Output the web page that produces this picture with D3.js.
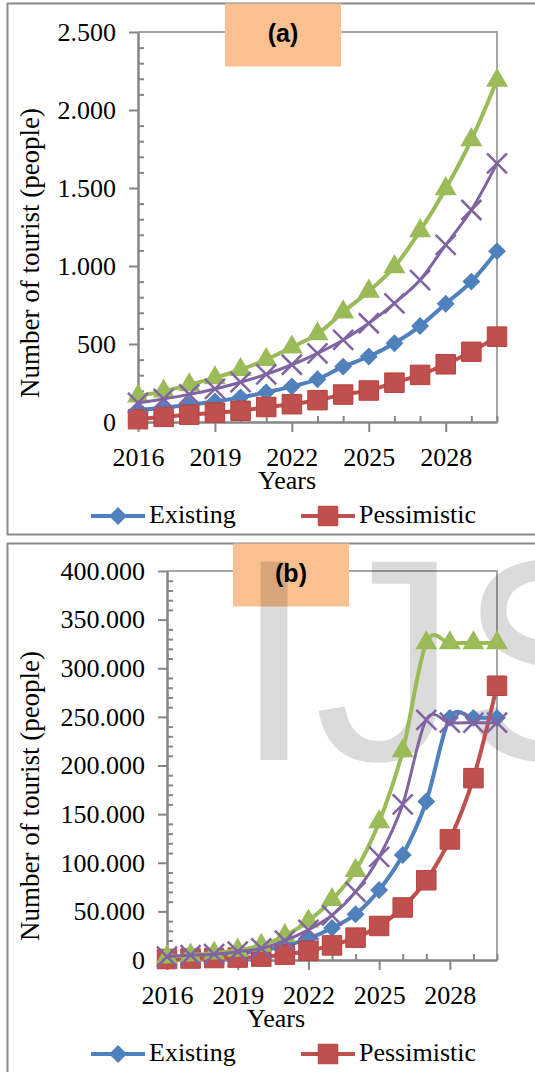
<!DOCTYPE html>
<html>
<head>
<meta charset="utf-8">
<script src="https://cdn.jsdelivr.net/npm/d3@7"></script>
<style>
  body { margin: 0; background: #fff; }
  svg { display: block; }
</style>
</head>
<body>
<div id="chart"></div>
<script>
// categories
var years = [2016, 2017, 2018, 2019, 2020, 2021, 2022, 2023, 2024, 2025, 2026, 2027, 2028, 2029, 2030];
var yearLabels = [2016, 2019, 2022, 2025, 2028];

// panel (a) values
var existingA    = [78, 92, 110, 132, 158, 190, 228, 274, 355, 420, 505, 615, 758, 900, 1095];
var pessimisticA = [18, 33, 47, 60, 72, 96, 114, 140, 176, 202, 252, 302, 370, 450, 547];
var optimisticA  = [165, 198, 238, 283, 335, 400, 480, 565, 705, 838, 995, 1225, 1495, 1808, 2190];
var moderateA    = [123, 148, 177, 212, 255, 306, 367, 440, 526, 633, 761, 910, 1135, 1359, 1658];
var yTicksA = [0, 500, 1000, 1500, 2000, 2500];

// panel (b) values
var existingB    = [2000, 2900, 4300, 6400, 9700, 14500, 22000, 33000, 47000, 72000, 108000, 163000, 249000, 249000, 249000];
var pessimisticB = [1000, 1500, 2000, 2500, 3500, 5500, 9500, 15000, 23000, 35000, 54000, 82000, 124000, 187000, 282000];
var optimisticB  = [3000, 5000, 7000, 10000, 15000, 25000, 40000, 62000, 92000, 142000, 215000, 326000, 326000, 326000, 326000];
var moderateB    = [3500, 5000, 6000, 8500, 12000, 20000, 31000, 46000, 70000, 106000, 160000, 247000, 244000, 244000, 244000];
var yTicksB = [0, 50000, 100000, 150000, 200000, 250000, 300000, 350000, 400000];

var colors = {existing: "#4F81BD", pessimistic: "#C0504D", optimistic: "#9BBB59", moderate: "#8064A2"};
var serif = "'Liberation Serif', 'Times New Roman', serif";
var fmt = d3.formatLocale({decimal: ",", thousands: ".", grouping: [3], currency: ["", ""]}).format(",d");

var svg = d3.select("#chart").append("svg")
    .attr("width", 535)
    .attr("height", 1072);

// marker shapes
function marker(g, kind, cx, cy, color) {
  if (kind == "diamond") {
    g.append("path").attr("d", d3.symbol(d3.symbolSquare, 160)())
      .attr("transform", "translate(" + cx + "," + cy + ") rotate(45)")
      .attr("fill", color);
  } else if (kind == "square") {
    g.append("path").attr("d", d3.symbol(d3.symbolSquare, 380)())
      .attr("transform", "translate(" + cx + "," + cy + ")")
      .attr("fill", color).attr("stroke", "#b9413e").attr("stroke-width", 1);
  } else if (kind == "triangle") {
    g.append("path").attr("d", d3.symbol(d3.symbolTriangle, 210)())
      .attr("transform", "translate(" + cx + "," + cy + ")")
      .attr("fill", color);
  } else {
    var r = 10;
    g.append("path").attr("d", "M" + (-r) + "," + (-r) + "L" + r + "," + r + "M" + (-r) + "," + r + "L" + r + "," + (-r))
      .attr("transform", "translate(" + cx + "," + cy + ")")
      .attr("stroke", color).attr("stroke-width", 2.5).attr("fill", "none");
  }
}

function drawPanel(cfg) {
  var g = svg.append("g");

  // outer frame
  g.append("rect")
    .attr("x", 7.5).attr("y", cfg.frameTop)
    .attr("width", 560).attr("height", cfg.frameHeight)
    .attr("fill", "none").attr("stroke", "#8a8a8a").attr("stroke-width", 2);

  var x = d3.scalePoint().domain(years).range([cfg.left, cfg.right]);
  var y = d3.scaleLinear().domain([0, cfg.max]).range([cfg.bottom, cfg.top]);

  // plot area border
  g.append("path")
    .attr("d", "M" + cfg.left + "," + y(cfg.max) + "H" + cfg.right + "V" + cfg.bottom)
    .attr("fill", "none").attr("stroke", "#a6a6a6").attr("stroke-width", 2);

  // y axis
  g.append("g")
    .attr("transform", "translate(" + cfg.left + ",0)")
    .call(d3.axisLeft(y).tickValues(cfg.yTicks).tickFormat(fmt).tickSize(9).tickSizeOuter(0).tickPadding(13));
  var minorY = d3.range(0, cfg.max, cfg.minor).filter(function(v) { return cfg.yTicks.indexOf(v) < 0; });
  g.append("g")
    .attr("transform", "translate(" + cfg.left + ",0)")
    .call(d3.axisRight(y).tickValues(minorY).tickFormat("").tickSize(6).tickSizeOuter(0));

  // x axis
  var xAxis = g.append("g")
    .attr("transform", "translate(0," + cfg.bottom + ")")
    .call(d3.axisBottom(x).tickValues(yearLabels).tickSize(10).tickSizeOuter(0));
  xAxis.selectAll("text").attr("y", 44).attr("dy", null);
  var minorX = years.filter(function(v) { return yearLabels.indexOf(v) < 0; });
  g.append("g")
    .attr("transform", "translate(0," + cfg.bottom + ")")
    .call(d3.axisTop(x).tickValues(minorX).tickFormat("").tickSize(6).tickSizeOuter(0));

  g.selectAll(".domain, .tick line").attr("stroke", "#868686").attr("stroke-width", 2);
  g.selectAll(".tick text")
    .attr("font-family", serif).attr("font-size", 26).attr("fill", "#000");

  // label box
  g.append("rect")
    .attr("x", cfg.boxX).attr("y", cfg.frameTop)
    .attr("width", 116).attr("height", 63)
    .attr("fill", "#FAC090");
  g.append("text")
    .attr("x", cfg.boxX + 58).attr("y", cfg.frameTop + 38)
    .attr("text-anchor", "middle")
    .attr("font-family", "'Liberation Sans', Arial, sans-serif")
    .attr("font-weight", "bold").attr("font-size", 25)
    .text(cfg.label);

  if (cfg.watermark) {
    g.append("text")
      .attr("x", 234).attr("y", 760)
      .attr("font-family", "'Liberation Sans', Arial, sans-serif")
      .attr("font-size", 288)
      .attr("fill", "#000").attr("fill-opacity", 0.14)
      .text("IJS");
  }

  // titles
  g.append("text")
    .attr("transform", "translate(39," + cfg.titleY + ") rotate(-90)")
    .attr("text-anchor", "middle")
    .attr("font-family", serif).attr("font-size", 27)
    .text("Number of tourist  (people)");
  g.append("text")
    .attr("x", cfg.yearsX).attr("y", cfg.bottom + 67)
    .attr("text-anchor", "middle")
    .attr("font-family", serif).attr("font-size", 26)
    .text("Years");

  // series
  var line = d3.line()
    .x(function(d, i) { return x(years[i]); })
    .y(function(d) { return y(d); })
    .curve(d3.curveCatmullRom.alpha(0));

  cfg.series.forEach(function(s) {
    var sg = g.append("g");
    sg.append("path")
      .attr("d", line(s.values))
      .attr("fill", "none")
      .attr("stroke", s.color)
      .attr("stroke-width", s.kind == "cross" ? 3 : 4);
    s.values.forEach(function(v, i) {
      marker(sg, s.kind, x(years[i]), y(v), s.color);
    });
  });

  // legend
  var ly = cfg.bottom + 94;
  var legendItems = [
    {name: "Existing", color: colors.existing, kind: "diamond", x0: 91},
    {name: "Pessimistic", color: colors.pessimistic, kind: "square", x0: 301}
  ];
  legendItems.forEach(function(item) {
    g.append("line")
      .attr("x1", item.x0).attr("x2", item.x0 + 54)
      .attr("y1", ly).attr("y2", ly)
      .attr("stroke", item.color).attr("stroke-width", 4);
    marker(g, item.kind, item.x0 + 27, ly, item.color);
    g.append("text")
      .attr("x", item.x0 + 58).attr("y", ly + 7)
      .attr("font-family", serif).attr("font-size", 26)
      .text(item.name);
  });
}

drawPanel({
  frameTop: 3.5, frameHeight: 531,
  left: 138, right: 497, top: 32, bottom: 422,
  max: 2500, minor: 100, yTicks: yTicksA,
  boxX: 225, label: "(a)", titleY: 253, yearsX: 287,
  watermark: false,
  series: [
    {values: existingA, color: colors.existing, kind: "diamond"},
    {values: pessimisticA, color: colors.pessimistic, kind: "square"},
    {values: optimisticA, color: colors.optimistic, kind: "triangle"},
    {values: moderateA, color: colors.moderate, kind: "cross"}
  ]
});

drawPanel({
  frameTop: 543.5, frameHeight: 560,
  left: 167, right: 497, top: 571, bottom: 960,
  max: 400000, minor: 10000, yTicks: yTicksB,
  boxX: 233, label: "(b)", titleY: 796, yearsX: 276,
  watermark: true,
  series: [
    {values: existingB, color: colors.existing, kind: "diamond"},
    {values: pessimisticB, color: colors.pessimistic, kind: "square"},
    {values: optimisticB, color: colors.optimistic, kind: "triangle"},
    {values: moderateB, color: colors.moderate, kind: "cross"}
  ]
});
</script>
</body>
</html>
